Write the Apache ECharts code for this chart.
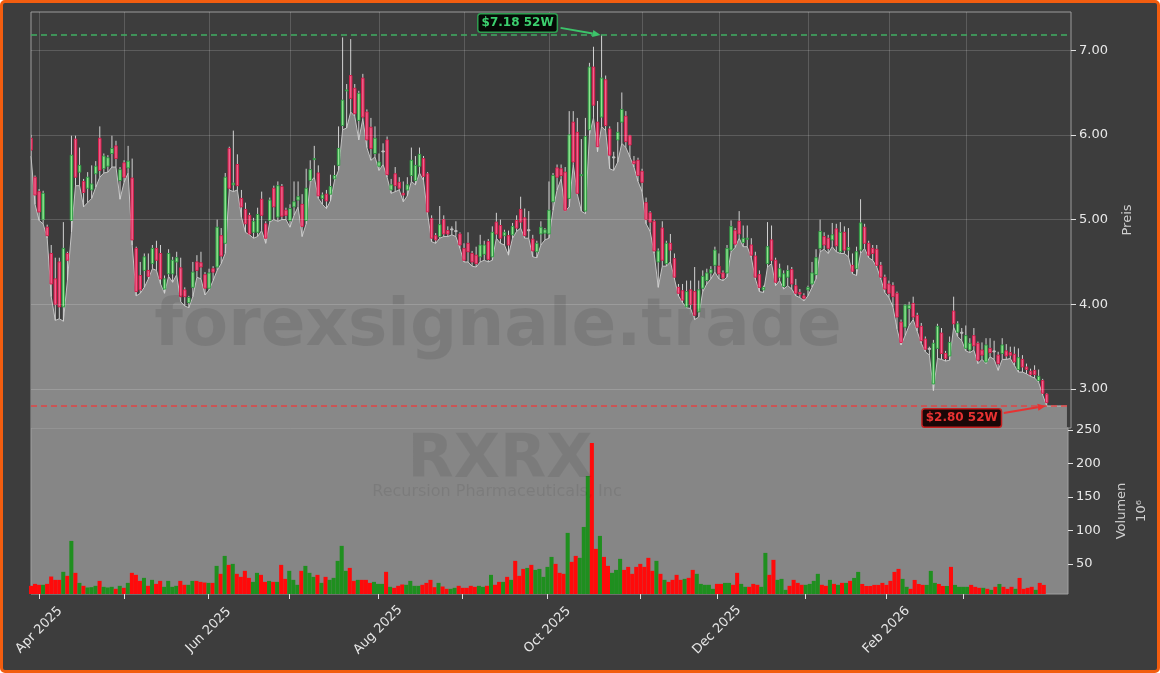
<!DOCTYPE html>
<html><head><meta charset="utf-8">
<script src="https://cdn.jsdelivr.net/npm/echarts@6/dist/echarts.min.js"></script>
<style>
html,body{margin:0;padding:0;background:#fff;}
#frame{width:1160px;height:673px;box-sizing:border-box;border:3px solid #f25d0f;border-radius:5px;background:#3d3d3d;overflow:hidden;position:relative;}
#chart{position:absolute;left:-3px;top:-3px;width:1160px;height:673px;}
</style></head><body>
<div id="frame"><div id="chart"></div></div>
<script>
// ---- data ----
const opens = [5.96,5.50,5.33,5.00,4.91,4.60,4.30,4.50,3.97,4.60,
4.99,5.95,5.56,5.45,5.37,5.35,5.54,5.96,5.60,5.63,
5.78,5.87,5.46,5.67,5.61,5.49,4.66,4.34,4.40,4.40,
4.48,4.66,4.60,4.18,4.36,4.36,4.50,4.43,4.17,4.02,
4.20,4.50,4.49,4.35,4.19,4.42,4.44,4.81,4.72,5.84,
5.41,5.65,5.25,5.12,5.05,4.85,4.85,5.24,4.95,4.99,
5.37,5.03,5.39,5.11,4.99,5.15,5.23,5.18,4.99,5.46,
5.71,5.55,5.25,5.30,5.30,5.48,5.64,6.11,6.52,6.70,
6.55,6.17,6.67,6.27,6.09,5.78,5.63,5.81,5.94,5.35,
5.54,5.44,5.31,5.35,5.52,5.46,5.63,5.72,5.54,5.01,
4.81,4.80,5.00,4.87,4.89,4.87,4.83,4.66,4.72,4.60,
4.58,4.56,4.59,4.74,4.56,4.97,4.93,4.81,4.81,4.82,
4.99,5.12,5.02,4.88,4.77,4.62,4.83,4.84,4.83,5.21,
5.61,5.60,5.56,5.25,6.15,6.03,5.52,5.10,6.06,6.80,
6.15,6.21,6.65,6.07,5.74,5.94,6.15,6.22,5.99,5.69,
5.70,5.57,5.20,5.08,4.98,4.50,4.90,4.48,4.72,4.54,
4.20,4.16,3.97,4.17,4.15,3.91,4.19,4.28,4.37,4.46,
4.45,4.37,4.37,4.64,4.87,4.98,4.73,4.77,4.70,4.57,
4.35,4.17,4.48,4.76,4.52,4.32,4.21,4.32,4.41,4.22,
4.14,4.10,4.17,4.24,4.35,4.66,4.80,4.78,4.76,4.89,
4.62,4.85,4.64,4.46,4.42,4.64,4.91,4.72,4.66,4.65,
4.46,4.32,4.24,4.22,4.13,3.79,3.73,3.95,4.01,3.87,
3.74,3.59,3.48,3.06,3.48,3.66,3.42,3.39,3.92,3.67,
3.67,3.48,3.46,3.63,3.54,3.46,3.32,3.48,3.45,3.40,
3.42,3.45,3.43,3.41,3.23,3.35,3.26,3.21,3.22,3.10,
3.10,2.94];
const closes = [5.82,5.29,5.09,5.31,4.81,4.24,4.00,3.97,4.66,4.52,
5.76,5.50,5.64,5.32,5.50,5.42,5.63,5.58,5.75,5.73,
5.84,5.72,5.59,5.50,5.69,4.76,4.15,4.17,4.56,4.33,
4.66,4.52,4.30,4.30,4.60,4.52,4.55,4.09,4.09,4.08,
4.38,4.40,4.44,4.19,4.37,4.38,4.91,4.57,5.50,5.37,
5.43,5.40,5.15,4.95,4.83,4.98,5.06,5.05,4.78,5.23,
5.15,5.40,5.04,5.05,5.13,5.21,5.27,4.92,5.37,5.59,
5.72,5.28,5.29,5.22,5.39,5.52,5.84,6.41,6.53,6.43,
6.25,6.49,6.21,5.94,5.84,5.96,5.68,5.81,5.53,5.41,
5.40,5.37,5.29,5.41,5.70,5.64,5.77,5.51,5.09,4.78,
4.76,4.94,4.83,4.83,4.89,4.87,4.70,4.52,4.62,4.50,
4.48,4.70,4.70,4.53,4.85,4.83,4.78,4.85,4.70,4.92,
4.90,4.97,4.81,4.88,4.63,4.72,4.91,4.88,5.11,5.52,
5.50,5.52,5.11,6.00,5.68,5.31,5.53,5.98,6.80,6.35,
5.86,6.67,6.11,5.76,5.74,6.03,6.30,5.92,5.88,5.66,
5.52,5.44,5.00,4.97,4.63,4.63,4.52,4.72,4.64,4.32,
4.13,4.05,4.15,4.00,3.87,4.17,4.33,4.37,4.41,4.64,
4.36,4.31,4.66,4.92,4.71,4.83,4.78,4.78,4.58,4.32,
4.20,4.20,4.68,4.52,4.26,4.42,4.36,4.40,4.24,4.13,
4.12,4.07,4.20,4.37,4.55,4.86,4.70,4.66,4.82,4.69,
4.85,4.64,4.67,4.39,4.62,4.96,4.72,4.58,4.60,4.46,
4.32,4.18,4.13,4.09,3.85,3.55,3.99,3.99,3.85,3.73,
3.57,3.47,3.48,3.54,3.74,3.42,3.36,3.55,3.77,3.77,
3.67,3.63,3.54,3.51,3.34,3.40,3.52,3.43,3.45,3.30,
3.52,3.39,3.40,3.32,3.37,3.26,3.23,3.17,3.17,3.15,
2.95,2.84];
const highs = [6.00,5.52,5.36,5.34,4.94,4.70,4.55,4.55,4.97,4.62,
5.99,5.99,5.85,5.48,5.56,5.64,5.69,6.10,5.78,5.76,
5.99,5.93,5.62,5.70,5.87,5.72,4.68,4.50,4.60,4.60,
4.70,4.75,4.70,4.34,4.65,4.56,4.62,4.55,4.20,4.10,
4.50,4.58,4.62,4.38,4.42,4.45,5.00,4.90,5.55,5.86,
6.05,5.77,5.35,5.20,5.08,5.02,5.14,5.33,4.98,5.26,
5.40,5.45,5.42,5.14,5.18,5.45,5.45,5.30,5.60,5.70,
5.87,5.64,5.32,5.35,5.53,5.64,6.10,7.15,6.60,7.13,
6.60,6.52,6.72,6.30,6.20,6.10,5.78,5.90,5.98,5.48,
5.62,5.50,5.45,5.50,5.85,5.75,5.85,5.75,5.56,5.05,
4.84,5.16,5.05,4.92,4.92,4.98,4.85,4.72,4.85,4.63,
4.68,4.82,4.75,4.77,4.92,5.08,5.00,4.88,4.87,4.96,
5.05,5.27,5.13,5.10,4.82,4.75,4.98,4.90,5.45,5.55,
5.65,5.65,5.62,6.28,6.28,6.20,5.95,6.20,6.85,7.04,
6.40,7.18,6.70,6.10,5.80,6.15,6.50,6.28,6.00,5.75,
5.73,5.60,5.26,5.10,5.00,4.66,4.98,4.75,4.83,4.60,
4.24,4.24,4.28,4.28,4.44,4.28,4.40,4.42,4.45,4.68,
4.60,4.40,4.70,4.99,4.90,5.10,4.93,4.93,4.78,4.62,
4.40,4.22,4.97,4.93,4.55,4.48,4.40,4.46,4.44,4.30,
4.18,4.13,4.22,4.50,4.65,5.00,4.85,4.82,4.96,4.95,
4.97,4.92,4.90,4.60,4.68,5.24,4.95,4.75,4.70,4.70,
4.50,4.35,4.28,4.26,4.15,3.82,4.00,4.03,4.09,3.90,
3.78,3.62,3.50,3.58,3.77,3.72,3.45,3.62,4.09,3.80,
3.72,3.75,3.60,3.72,3.56,3.55,3.60,3.60,3.57,3.44,
3.60,3.53,3.50,3.50,3.48,3.40,3.30,3.24,3.28,3.23,
3.12,2.95];
const lows = [5.75,5.18,4.99,4.95,4.78,4.09,3.81,3.83,3.80,4.28,
4.85,5.40,5.40,5.15,5.20,5.25,5.38,5.50,5.55,5.56,
5.62,5.62,5.24,5.44,5.55,4.70,4.10,4.13,4.20,4.30,
4.42,4.40,4.24,4.13,4.33,4.26,4.35,4.03,3.98,3.96,
4.09,4.32,4.30,4.11,4.17,4.28,4.40,4.48,4.60,5.35,
5.33,5.35,5.03,4.85,4.82,4.78,4.80,4.87,4.72,4.97,
5.00,4.98,5.00,5.00,4.91,5.05,5.15,4.80,4.95,5.44,
5.50,5.25,5.18,5.13,5.22,5.46,5.58,6.06,6.08,6.27,
6.22,5.94,6.19,5.85,5.70,5.74,5.58,5.65,5.50,5.31,
5.33,5.35,5.21,5.28,5.45,5.41,5.55,5.46,5.07,4.74,
4.72,4.78,4.80,4.80,4.82,4.80,4.66,4.50,4.50,4.45,
4.44,4.50,4.52,4.50,4.52,4.78,4.72,4.70,4.58,4.78,
4.86,4.90,4.78,4.78,4.56,4.55,4.70,4.76,4.78,5.11,
5.35,5.48,5.10,5.15,5.65,5.30,5.10,5.07,6.00,6.20,
5.80,6.10,6.05,5.60,5.58,5.68,5.90,5.85,5.74,5.62,
5.45,5.33,4.95,4.86,4.60,4.20,4.45,4.45,4.50,4.30,
4.10,4.02,3.96,3.95,3.82,3.85,4.15,4.24,4.30,4.38,
4.30,4.28,4.32,4.62,4.67,4.78,4.68,4.68,4.55,4.30,
4.15,4.14,4.44,4.48,4.22,4.28,4.18,4.22,4.18,4.10,
4.08,4.04,4.10,4.20,4.30,4.62,4.65,4.60,4.68,4.62,
4.60,4.60,4.56,4.36,4.34,4.60,4.66,4.55,4.52,4.44,
4.30,4.14,4.08,3.97,3.71,3.52,3.63,3.75,3.82,3.68,
3.54,3.44,3.40,2.98,3.36,3.35,3.33,3.34,3.73,3.62,
3.57,3.45,3.43,3.46,3.30,3.35,3.30,3.38,3.35,3.22,
3.35,3.35,3.36,3.28,3.20,3.20,3.18,3.15,3.13,3.08,
2.93,2.80];
// volume in millions
const volumes = [17.2,20.1,18.7,18.7,20.1,31.1,26.1,26.1,38.1,32.1,
84.3,36.6,21.6,17.2,14.7,15.2,17.2,24.6,15.7,14.7,
15.7,12.7,17.2,14.2,21.6,36.6,33.6,24.6,29.1,17.2,
26.1,20.1,24.6,15.7,24.6,15.7,17.2,24.6,18.7,18.7,
24.6,24.6,23.1,22.1,21.6,21.6,47,35.1,61.9,48.5,
50,35.1,30.6,39.6,29.1,23.1,36.6,33.6,23.1,24.6,
23.1,23.1,48.5,27.6,39.6,26.1,18.7,39.6,47,36.6,
30.6,33.6,21.6,30.6,26.1,29.1,54.5,76.9,39.6,44,
24.6,26.1,26.1,26.1,21.6,23.1,20.1,20.1,38.1,15.7,
14.2,17.2,19.2,18.7,24.6,17.2,17.2,18.7,21.6,26.1,
15.2,21.6,16.2,12.7,12.7,14.2,17.2,14.2,14.2,17.2,
15.7,17.2,15.7,17.2,33.6,18.7,23.1,23.1,30.6,26.1,
54.5,32.1,42.5,44,48.5,41,42.5,30.6,45.5,60.4,
50,36.6,35.1,96.3,53,61.9,59,105.2,181.3,230.6,
72.4,91.8,60.4,47,36.6,41,57.5,41,45.5,35.1,
45.5,50,45.5,59,39.6,54.5,35.1,26.1,23.1,26.1,
33.6,26.1,27.6,29.1,41,35.1,20.1,18.7,18.7,12.7,
20.1,20.1,21.6,21.6,18.7,36.6,20.1,15.7,15.7,20.1,
18.7,15.7,66.4,33.6,56,26.1,27.6,11.2,17.2,26.1,
21.6,18.7,18.7,20.1,24.6,35.1,18.7,17.2,26.1,20.1,
18.7,21.6,21.6,24.6,29,38,20,17,17,18.6,
18.6,21.6,18.6,24.6,38,42.5,27.6,15.7,12.7,26,
20,18.6,18.6,39.5,21.6,20,17,17,45.5,18.6,
15.7,15.7,15.7,18.6,15.7,14.2,14.2,12.7,11.2,15.7,
20,15.7,12.7,15.7,12.7,29,12.7,14.2,15.7,11.2,
21.6,18.6];
const startDate = '2025-03-28';
const holidays = ['2025-04-18','2025-05-26','2025-06-19','2025-07-04','2025-09-01','2025-11-27','2025-12-25','2026-01-01','2026-01-19','2026-02-16','2026-04-03'];
const monthNames = ['Jan','Feb','Mar','Apr','May','Jun','Jul','Aug','Sep','Oct','Nov','Dec'];
const priceTicks = [3,4,5,6,7];
const volTicks = [50,100,150,200,250];
const nCats = 258;

// ---- build ----
function tradingDays(start, n){
  const out=[]; const d=new Date(start+'T00:00:00Z');
  while(out.length<n){
    const wd=d.getUTCDay(); const s=d.toISOString().slice(0,10);
    if(wd!==0 && wd!==6 && holidays.indexOf(s)<0) out.push(s);
    d.setUTCDate(d.getUTCDate()+1);
  }
  return out;
}
const dates = tradingDays(startDate, nCats);
const N = opens.length;
const monthOf = i => parseInt(dates[i].slice(5,7),10);
const isMonthStart = i => i>0 && i<N && monthOf(i)!==monthOf(i-1);
const isLabelMonth = i => isMonthStart(i) && monthOf(i)%2===0;

const maxHigh = Math.max.apply(null, highs);
const minLow = Math.min.apply(null, lows);
const hiIdx = highs.indexOf(maxHigh);
const loIdx = lows.lastIndexOf(minLow);
const lastLow = lows[N-1];
const areaData = dates.map((d,i)=> i<N ? lows[i] : (i<=N+4 ? lastLow : null));
const candles = opens.map((o,i)=>[i,o,closes[i],lows[i],highs[i]]);
const volData = volumes.map((v,i)=>({value:v, itemStyle:{color: closes[i]>=opens[i] ? '#1f8f1f' : '#ff0a0a'}}));

function renderCandle(params, api){
  const i=api.value(0), o=api.value(1), c=api.value(2), l=api.value(3), h=api.value(4);
  const pO=api.coord([i,o]), pC=api.coord([i,c]), pL=api.coord([i,l]), pH=api.coord([i,h]);
  const w=Math.max(2, api.size([1,0])[0]*0.6);
  const flat = c===o, up = c>o;
  const fill = flat ? '#c0c0c0' : (up ? '#92e492' : '#f0628e');
  const stroke = flat ? '#c0c0c0' : (up ? '#2f9e44' : '#d81e4c');
  const top=Math.min(pO[1],pC[1]);
  const bh=Math.max(1, Math.abs(pO[1]-pC[1]));
  return {type:'group', children:[
    {type:'line', shape:{x1:pH[0],y1:pH[1],x2:pL[0],y2:pL[1]}, style:{stroke:'#d2d2d2', lineWidth:1}},
    {type:'rect', shape:{x:pO[0]-w/2, y:top, width:w, height:bh}, style:{fill:fill, stroke:stroke, lineWidth:1}}
  ]};
}

const chart = echarts.init(document.getElementById('chart'), null, {renderer:'canvas'});
const FONT = 'DejaVu Sans';
const option = {
  animation:false,
  backgroundColor:'transparent',
  textStyle:{fontFamily:FONT},
  grid:[
    {left:31, top:12, width:1040, height:416, show:true, borderColor:'#9c9c9c', borderWidth:1, backgroundColor:'transparent'},
    {left:31, top:428, width:1040, height:166, show:true, borderColor:'#a0a0a0', borderWidth:1, backgroundColor:'#868686'}
  ],
  xAxis:[
    {type:'category', gridIndex:0, data:dates, boundaryGap:false,
     axisLine:{show:false}, axisTick:{show:false, interval:isMonthStart}, axisLabel:{show:false},
     splitLine:{show:true, interval:isMonthStart, lineStyle:{color:'rgba(255,255,255,0.16)', width:1}}},
    {type:'category', gridIndex:1, data:dates, boundaryGap:false,
     axisLine:{show:false},
     axisTick:{show:true, interval:isMonthStart, length:5, lineStyle:{color:'#e0e0e0', width:1}},
     axisLabel:{show:true, interval:isLabelMonth, rotate:45, align:'center', verticalAlign:'middle', margin:36,
       color:'#e6e6e6', fontSize:13, fontFamily:FONT,
       formatter:(v)=> monthNames[parseInt(v.slice(5,7),10)-1]+' '+v.slice(0,4)},
     splitLine:{show:false}}
  ],
  yAxis:[
    {type:'value', gridIndex:0, position:'right', min:2.54, max:7.45,
     splitLine:{show:false}, axisLine:{show:false},
     axisTick:{show:true, customValues:priceTicks, length:5, lineStyle:{color:'#e0e0e0'}},
     axisLabel:{customValues:priceTicks, formatter:(v)=>Number(v).toFixed(2), color:'#e8e8e8', fontSize:13, margin:8, fontFamily:FONT},
     name:'Preis', nameLocation:'middle', nameGap:50, nameTextStyle:{color:'#cfcfcf', fontSize:13, fontFamily:FONT}},
    {type:'value', gridIndex:1, position:'right', min:5, max:253,
     splitLine:{show:false}, axisLine:{show:false},
     axisTick:{show:true, customValues:volTicks, length:5, lineStyle:{color:'#e0e0e0'}},
     axisLabel:{customValues:volTicks, color:'#e8e8e8', fontSize:13, margin:8, fontFamily:FONT},
     name:'Volumen\n10⁶', nameLocation:'middle', nameGap:44, nameTextStyle:{color:'#cfcfcf', fontSize:13, lineHeight:20, fontFamily:FONT}}
  ],
  series:[
    {type:'line', xAxisIndex:0, yAxisIndex:0, data:dates.map(()=>null), z:1, silent:true, showSymbol:false,
     markLine:{silent:true, symbol:['none','none'], label:{show:false},
       lineStyle:{color:'rgba(255,255,255,0.16)', type:'solid', width:1},
       data:priceTicks.map(v=>({yAxis:v}))}},
    {type:'line', xAxisIndex:0, yAxisIndex:0, data:areaData, z:2, silent:true, showSymbol:false, symbol:'none',
     lineStyle:{color:'#c4c4c4', width:1}, areaStyle:{color:'#888888', opacity:1, origin:'start'},
     markLine:{silent:true, symbol:['none','none'], label:{show:false},
       data:[
         {yAxis:maxHigh, lineStyle:{color:'#3fae62', type:[6,4], width:1.5}},
         {yAxis:minLow, lineStyle:{color:'#e04444', type:[6,4], width:1.5}}
       ]}},
    {type:'custom', xAxisIndex:0, yAxisIndex:0, data:candles, renderItem:renderCandle, z:3, silent:true,
     encode:{x:0, y:[1,2,3,4]}, clip:true},
    {type:'bar', xAxisIndex:1, yAxisIndex:1, data:volData, barCategoryGap:'0%', z:2, silent:true, clip:true}
  ]
};
chart.setOption(option);

// annotations and watermarks
function arrow(x1,y1,x2,y2,color){
  const ang=Math.atan2(y2-y1,x2-x1), L=8, W=3.5;
  const bx=x2-L*Math.cos(ang), by=y2-L*Math.sin(ang);
  const px=-Math.sin(ang)*W, py=Math.cos(ang)*W;
  return [
    {type:'line', shape:{x1:x1,y1:y1,x2:bx,y2:by}, style:{stroke:color, lineWidth:2}, z:30},
    {type:'polygon', shape:{points:[[x2,y2],[bx+px,by+py],[bx-px,by-py]]}, style:{fill:color}, z:30}
  ];
}
const pHi = chart.convertToPixel({xAxisIndex:0, yAxisIndex:0}, [dates[hiIdx], maxHigh]);
const pLo = chart.convertToPixel({xAxisIndex:0, yAxisIndex:0}, [dates[loIdx], minLow]);
const hiText = '$' + maxHigh.toFixed(2) + ' 52W';
const loText = '$' + minLow.toFixed(2) + ' 52W';
const elements = [
  {type:'text', x:498, y:328, z:10, silent:true, style:{text:'forexsignale.trade', font:'bold 66px "DejaVu Sans"', fill:'rgba(0,0,0,0.09)', align:'center', verticalAlign:'middle'}},
  {type:'text', x:500, y:461, z:10, silent:true, style:{text:'RXRX', font:'bold 60px "DejaVu Sans"', fill:'rgba(0,0,0,0.08)', align:'center', verticalAlign:'middle'}},
  {type:'text', x:497, y:492, z:10, silent:true, style:{text:'Recursion Pharmaceuticals, Inc', font:'16px "DejaVu Sans"', fill:'rgba(0,0,0,0.08)', align:'center', verticalAlign:'middle'}},
  {type:'text', x:pHi[0]-84, y:pHi[1]-12, z:31, silent:true, style:{text:hiText, font:'bold 12px "DejaVu Sans"', fill:'#3ccf6e', align:'center', verticalAlign:'middle', backgroundColor:'#060a06', borderColor:'#2e9e50', borderWidth:1.5, borderRadius:2, padding:[3,3,2,3]}},
  {type:'text', x:pLo[0]-85, y:pLo[1]+12, z:31, silent:true, style:{text:loText, font:'bold 12px "DejaVu Sans"', fill:'#e83232', align:'center', verticalAlign:'middle', backgroundColor:'#1a0707', borderColor:'#c42020', borderWidth:1.5, borderRadius:2, padding:[3,3,2,3]}}
].concat(arrow(pHi[0]-41, pHi[1]-7, pHi[0]-1, pHi[1], '#3cc46a'))
 .concat(arrow(pLo[0]-43, pLo[1]+7, pLo[0]-1, pLo[1], '#e83232'));
chart.setOption({graphic:{elements:elements}});
</script>
</body></html>
